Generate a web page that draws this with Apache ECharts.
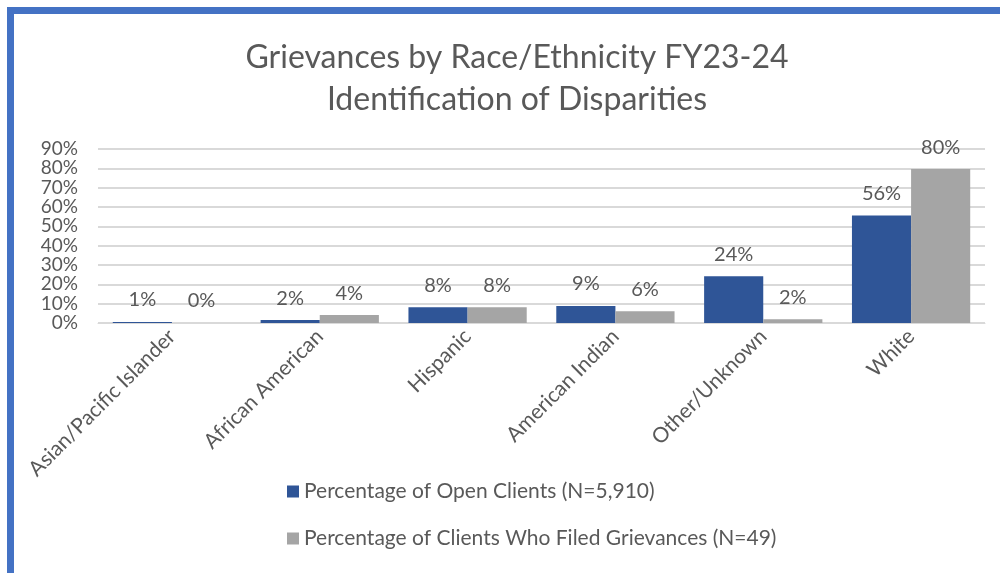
<!DOCTYPE html>
<html>
<head>
<meta charset="utf-8">
<script src="https://cdn.jsdelivr.net/npm/echarts@6/dist/echarts.min.js"></script>
<style>
  html, body { margin: 0; padding: 0; background: #fff; }
  #frame {
    position: absolute; left: 7px; top: 7px; width: 1000px; height: 559px;
    border-left: 7px solid #4472C4; border-top: 7px solid #4472C4; border-bottom: 3px solid #4472C4;
  }
  #chart { position: absolute; left: 0; top: 0; width: 1000px; height: 573px; }
</style>
</head>
<body>
<div id="frame"></div>
<div id="chart"></div>
<script>
var categories = ["Asian/Pacific Islander", "African American", "Hispanic", "American Indian", "Other/Unknown", "White"];
var openClients = [0.5, 1.5, 8.2, 8.8, 24.2, 55.6];
var grievances = [0, 4.1, 8.2, 6.1, 2.0, 79.6];
var seriesNames = ["Percentage of Open Clients (N=5,910)", "Percentage of Clients Who Filed Grievances (N=49)"];
var titleLines = ["Grievances by Race/Ethnicity FY23-24", "Identification of Disparities"];

var font = "Lato, Carlito, Calibri, sans-serif";
var textColor = "#595959";

var chart = echarts.init(document.getElementById("chart"));

function labelOpt() {
  return {
    show: true,
    position: "top",
    distance: 12,
    color: textColor,
    fontFamily: font,
    fontSize: 20,
    formatter: function (p) {
      return Math.round(p.value) + "%";
    },
  };
}

var option = {
  backgroundColor: "transparent",
  animation: false,
  title: {
    text: titleLines.join("\n"),
    left: 512,
    textAlign: "center",
    top: 32,
    textStyle: {
      color: textColor,
      fontFamily: font,
      fontSize: 32,
      fontWeight: "normal",
      lineHeight: 42,
    },
  },
  legend: {
    orient: "vertical",
    left: 282,
    top: 476,
    itemGap: 26,
    itemWidth: 12,
    itemHeight: 12,
    icon: "rect",
    textStyle: { color: textColor, fontFamily: font, fontSize: 21 },
    data: seriesNames,
  },
  grid: {
    left: 98,
    right: 15,
    top: 149,
    bottom: 250,
  },
  xAxis: {
    type: "category",
    data: categories,
    axisLine: { show: true, lineStyle: { color: "#D9D9D9", width: 1 } },
    axisTick: { show: false },
    axisLabel: {
      rotate: 45,
      interval: 0,
      margin: 10,
      color: textColor,
      fontFamily: font,
      fontSize: 21,
    },
  },
  yAxis: {
    type: "value",
    min: 0,
    max: 90,
    interval: 10,
    axisLine: { show: false },
    axisTick: { show: false },
    splitLine: { lineStyle: { color: "#D9D9D9", width: 2 } },
    axisLabel: {
      margin: 20,
      color: textColor,
      fontFamily: font,
      fontSize: 19,
      formatter: "{value}%",
    },
  },
  series: [
    {
      name: seriesNames[0],
      type: "bar",
      barWidth: "40%",
      barGap: "0%",
      color: "#2F5597",
      label: labelOpt(),
      data: openClients,
    },
    {
      name: seriesNames[1],
      type: "bar",
      barWidth: "40%",
      color: "#A5A5A5",
      label: labelOpt(),
      data: grievances,
    },
  ],
};

chart.setOption(option);
</script>
</body>
</html>
